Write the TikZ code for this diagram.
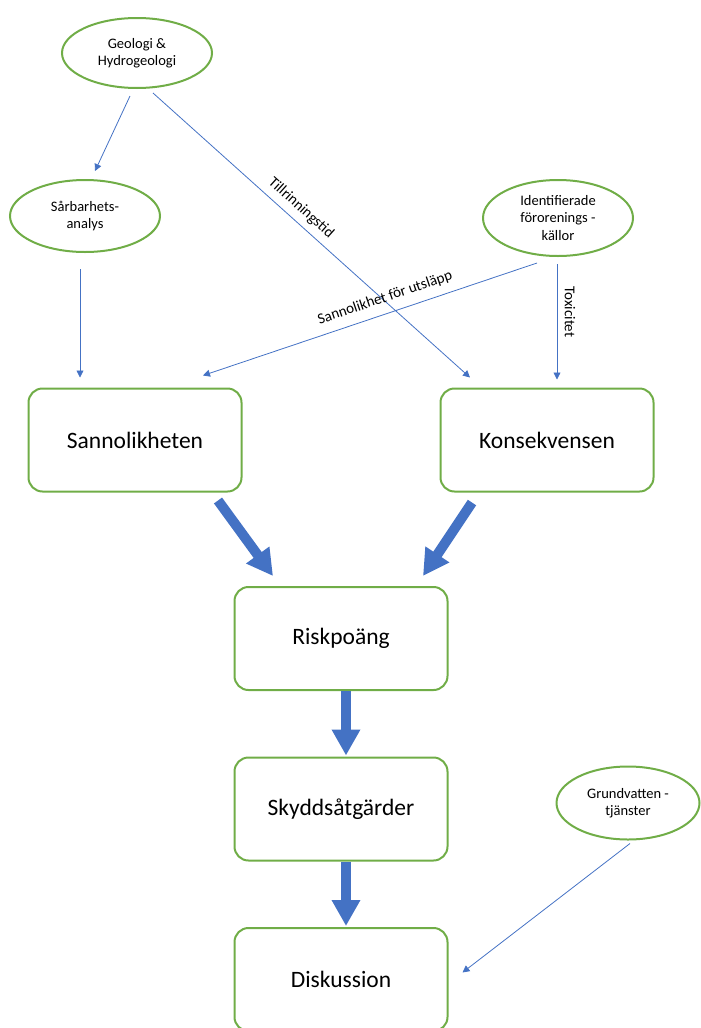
\documentclass[tikz,border=0pt]{standalone}
\usepackage{fontspec}
\setmainfont{Carlito}
\usetikzlibrary{shapes.geometric,arrows.meta}
\definecolor{grn}{HTML}{70AD47}
\definecolor{blu}{HTML}{4472C4}
\tikzset{
  ell/.style={ellipse, draw=grn, line width=2pt, inner sep=0pt, align=center,
    font=\fontsize{14.5pt}{17.5pt}\selectfont},
  box/.style={rectangle, rounded corners=14pt, draw=grn, line width=2pt,
    minimum width=213pt, minimum height=103pt, inner sep=0pt,
    font=\fontsize{23.5pt}{28pt}\selectfont},
  thin/.style={draw=blu, line width=0.8pt, -{Triangle[length=7pt,width=7pt]}},
  fat/.style={draw=blu, line width=10pt, -{Triangle[length=26pt,width=27pt]}},
  lbl/.style={inner sep=0pt, font=\fontsize{15pt}{18pt}\selectfont}
}
\begin{document}
\begin{tikzpicture}[x=1pt,y=-1pt]
\useasboundingbox (0,0) rectangle (701,1028);
% ellipses
\node[ell, minimum width=150pt, minimum height=70pt] (geo) at (137,53) {Geologi \&\\Hydrogeologi};
\node[ell, minimum width=150pt, minimum height=72pt] (sar) at (85,216) {Sårbarhets-\\analys};
\node[ell, minimum width=150pt, minimum height=76pt] (ide) at (558,218) {Identifierade\\förorenings -\\källor};
\node[ell, minimum width=143pt, minimum height=73pt] (gru) at (628,803) {Grundvatten -\\tjänster};
% boxes
\node[box] (san) at (135,440) {Sannolikheten};
\node[box] (kon) at (547,440) {Konsekvensen};
\node[box] (risk) at (341,638.5) {Riskpoäng};
\node[box] (sky) at (341,809) {Skyddsåtgärder};
\node[box] (dis) at (341,979.5) {Diskussion};
% thin connectors
\draw[thin] ([shift={(-7,7)}]geo.south) -- ([shift={(10,-8)}]sar.north);
\draw[thin] ([shift={(16,4)}]geo.south) -- ([shift={(-77,-10)}]kon.north);
\draw[thin] ([shift={(-5,16)}]sar.south) -- ([shift={(-55,-10)}]san.north);
\draw[thin] ([shift={(-21,6)}]ide.south) -- ([shift={(68,-12)}]san.north);
\draw[thin] ([shift={(-1,7)}]ide.south) -- ([shift={(10,-8)}]kon.north);
\draw[thin] ([shift={(2,3)}]gru.south) -- ([shift={(14,-7)}]dis.east);
% labels
\node[lbl, rotate=-42] (tl) at (301,208) {Tillrinningstid};
\node[lbl, rotate=18.8] (su) at (385,298) {Sannolikhet för utsläpp};
\node[lbl, rotate=-90] (tx) at (570,312) {Toxicitet};
% thick arrows
\draw[fat] ([shift={(83,8)}]san.south) -- ([shift={(-68,-10)}]risk.north);
\draw[fat] ([shift={(-75,10)}]kon.south) -- ([shift={(82,-10)}]risk.north);
\draw[fat] ([xshift=5pt]risk.south) -- ([shift={(5,-1)}]sky.north);
\draw[fat] ([xshift=5pt]sky.south) -- ([shift={(5,-1)}]dis.north);
\end{tikzpicture}
\end{document}
